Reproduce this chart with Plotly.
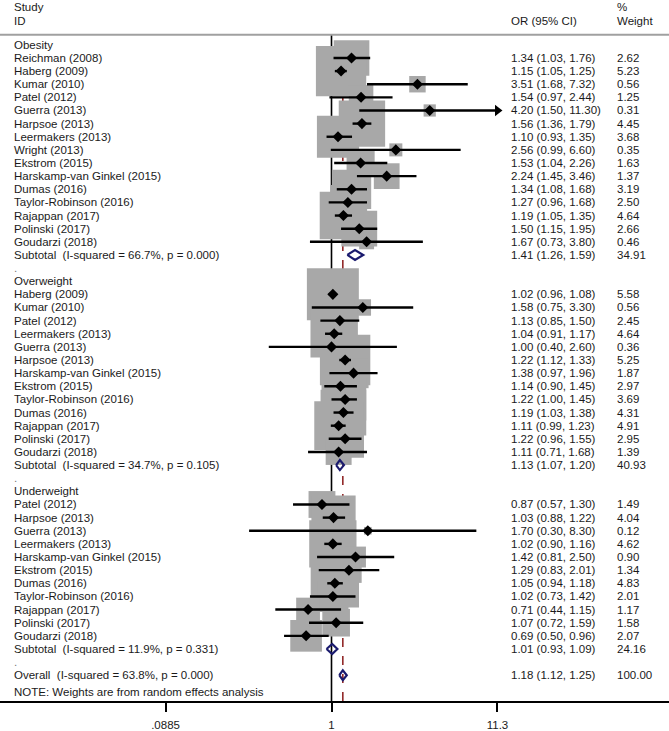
import math
import plotly.graph_objects as go

# ---------------- data ----------------
obesity_study = ["Reichman (2008)", "Haberg (2009)", "Kumar (2010)", "Patel (2012)", "Guerra (2013)",
                 "Harpsoe (2013)", "Leermakers (2013)", "Wright (2013)", "Ekstrom (2015)",
                 "Harskamp-van Ginkel (2015)", "Dumas (2016)", "Taylor-Robinson (2016)",
                 "Rajappan (2017)", "Polinski (2017)", "Goudarzi (2018)"]
obesity_or = [1.34, 1.15, 3.51, 1.54, 4.20, 1.56, 1.10, 2.56, 1.53, 2.24, 1.34, 1.27, 1.19, 1.50, 1.67]
obesity_lo = [1.03, 1.05, 1.68, 0.97, 1.50, 1.36, 0.93, 0.99, 1.04, 1.45, 1.08, 0.96, 1.05, 1.15, 0.73]
obesity_hi = [1.76, 1.25, 7.32, 2.44, 11.30, 1.79, 1.35, 6.60, 2.26, 3.46, 1.68, 1.68, 1.35, 1.95, 3.80]
obesity_w = [2.62, 5.23, 0.56, 1.25, 0.31, 4.45, 3.68, 0.35, 1.63, 1.37, 3.19, 2.50, 4.64, 2.66, 0.46]

overweight_study = ["Haberg (2009)", "Kumar (2010)", "Patel (2012)", "Leermakers (2013)", "Guerra (2013)",
                    "Harpsoe (2013)", "Harskamp-van Ginkel (2015)", "Ekstrom (2015)",
                    "Taylor-Robinson (2016)", "Dumas (2016)", "Rajappan (2017)", "Polinski (2017)",
                    "Goudarzi (2018)"]
overweight_or = [1.02, 1.58, 1.13, 1.04, 1.00, 1.22, 1.38, 1.14, 1.22, 1.19, 1.11, 1.22, 1.11]
overweight_lo = [0.96, 0.75, 0.85, 0.91, 0.40, 1.12, 0.97, 0.90, 1.00, 1.03, 0.99, 0.96, 0.71]
overweight_hi = [1.08, 3.30, 1.50, 1.17, 2.60, 1.33, 1.96, 1.45, 1.45, 1.38, 1.23, 1.55, 1.68]
overweight_w = [5.58, 0.56, 2.45, 4.64, 0.36, 5.25, 1.87, 2.97, 3.69, 4.31, 4.91, 2.95, 1.39]

underweight_study = ["Patel (2012)", "Harpsoe (2013)", "Guerra (2013)", "Leermakers (2013)",
                     "Harskamp-van Ginkel (2015)", "Ekstrom (2015)", "Dumas (2016)",
                     "Taylor-Robinson (2016)", "Rajappan (2017)", "Polinski (2017)", "Goudarzi (2018)"]
underweight_or = [0.87, 1.03, 1.70, 1.02, 1.42, 1.29, 1.05, 1.02, 0.71, 1.07, 0.69]
underweight_lo = [0.57, 0.88, 0.30, 0.90, 0.81, 0.83, 0.94, 0.73, 0.44, 0.72, 0.50]
underweight_hi = [1.30, 1.22, 8.30, 1.16, 2.50, 2.01, 1.18, 1.42, 1.15, 1.59, 0.96]
underweight_w = [1.49, 4.04, 0.12, 4.62, 0.90, 1.34, 4.83, 2.01, 1.17, 1.58, 2.07]

group_names = ["Obesity", "Overweight", "Underweight"]
subtotal_labels = ["Subtotal\u00a0 (I-squared = 66.7%, p = 0.000)",
                   "Subtotal\u00a0 (I-squared = 34.7%, p = 0.105)",
                   "Subtotal\u00a0 (I-squared = 11.9%, p = 0.331)"]
subtotal_or = [1.41, 1.13, 1.01]
subtotal_lo = [1.26, 1.07, 0.93]
subtotal_hi = [1.59, 1.20, 1.09]
subtotal_w = [34.91, 40.93, 24.16]

overall_label = "Overall\u00a0 (I-squared = 63.8%, p = 0.000)"
overall_or, overall_lo, overall_hi, overall_w = 1.18, 1.12, 1.25, 100.00

tick_vals = [0.0885, 1, 11.3]
tick_text = [".0885", "1", "11.3"]

# ---------------- layout geometry ----------------
W, H = 669, 731
S = 13.19          # px per row
ROW1_PX = 45       # pixel y of first row
PLOT_BOTTOM = 704
PLOT_H = PLOT_BOTTOM
ymax = ROW1_PX / S - 1
ymin = ymax - PLOT_H / S
PX_PER_DEC = 157.6
X_ONE_PX = 331.5
xr = [-X_ONE_PX / PX_PER_DEC, (W - X_ONE_PX) / PX_PER_DEC]


def py(px):
    return ymax - px / S


FONT = "Liberation Sans, Arial, sans-serif"
FS = 11.5
TXT = "#1a1a1a"
X_LABEL, X_OR, X_W = 12, 509, 615

groups = [
    (obesity_study, obesity_or, obesity_lo, obesity_hi, obesity_w),
    (overweight_study, overweight_or, overweight_lo, overweight_hi, overweight_w),
    (underweight_study, underweight_or, underweight_lo, underweight_hi, underweight_w),
]

rows = []  # (row_index, kind, label, est, lo, hi, w)
r = 1
for gi, (st, es, lo, hi, w) in enumerate(groups):
    rows.append((r, "head", group_names[gi], None, None, None, None)); r += 1
    for k in range(len(st)):
        rows.append((r, "study", st[k], es[k], lo[k], hi[k], w[k])); r += 1
    rows.append((r, "sub", subtotal_labels[gi], subtotal_or[gi], subtotal_lo[gi], subtotal_hi[gi], subtotal_w[gi])); r += 1
    rows.append((r, "dot", ".", None, None, None, None)); r += 1
rows.append((r, "sub", overall_label, overall_or, overall_lo, overall_hi, overall_w))

fig = go.Figure()

studies = [row for row in rows if row[1] == "study"]
# grey weight boxes
fig.add_trace(go.Scatter(
    x=[s[3] for s in studies], y=[-s[0] for s in studies], mode="markers",
    marker=dict(symbol="square", size=[22.0 * math.sqrt(s[6]) for s in studies],
                color="#a8a8a8", opacity=1, line=dict(width=0)),
    hoverinfo="skip", showlegend=False))

# CI lines
cx, cy = [], []
for s in studies:
    cx += [s[4], s[5], None]
    cy += [-s[0], -s[0], None]
fig.add_trace(go.Scatter(x=cx, y=cy, mode="lines", line=dict(color="black", width=2.4),
                         hoverinfo="skip", showlegend=False))

# point estimates
fig.add_trace(go.Scatter(
    x=[s[3] for s in studies], y=[-s[0] for s in studies], mode="markers",
    marker=dict(symbol="diamond", size=8.5, color="black", opacity=1),
    hoverinfo="skip", showlegend=False))

# arrowheads for truncated CIs
arr = [s for s in studies if s[5] >= tick_vals[-1]]
fig.add_trace(go.Scatter(
    x=[s[5] for s in arr], y=[-s[0] for s in arr], mode="markers",
    marker=dict(symbol="triangle-right", size=10, color="black", opacity=1),
    hoverinfo="skip", showlegend=False))

# pooled diamonds
h = 0.38
for s in rows:
    if s[1] == "sub":
        yy = -s[0]
        fig.add_trace(go.Scatter(
            x=[s[4], s[3], s[5], s[3], s[4]], y=[yy, yy + h, yy, yy - h, yy],
            mode="lines", line=dict(color="#1a1a6e", width=2.2),
            hoverinfo="skip", showlegend=False))

# reference lines
top_line = py(35)
shapes = [
    dict(type="line", xref="x", yref="y", x0=1, x1=1, y0=ymin, y1=top_line,
         line=dict(color="black", width=1.6), layer="below"),
    dict(type="line", xref="x", yref="y", x0=overall_or, x1=overall_or, y0=ymin, y1=top_line,
         line=dict(color="#8b1a1a", width=1.5, dash="dash"), layer="below"),
    dict(type="line", xref="paper", yref="y", x0=0, x1=1, y0=top_line, y1=top_line,
         line=dict(color="#a0a0a0", width=2)),
]

ann = []


def text(xpx, y, t, color=TXT):
    ann.append(dict(x=xpx / W, xref="paper", y=y, yref="y", text=t, showarrow=False,
                    xanchor="left", yanchor="middle", font=dict(family=FONT, size=FS, color=color)))


text(X_LABEL, py(7), "Study")
text(X_LABEL, py(21), "ID")
text(X_OR, py(21), "OR (95% CI)")
text(X_W, py(7), "%")
text(X_W, py(21), "Weight")

for s in rows:
    yy = -s[0]
    if s[1] == "dot":
        text(X_LABEL, yy, ".", color="#777777")
    else:
        text(X_LABEL, yy, s[2])
    if s[3] is not None:
        text(X_OR, yy, f"{s[3]:.2f} ({s[4]:.2f}, {s[5]:.2f})")
        text(X_W, yy, f"{s[6]:.2f}")

ann.append(dict(x=X_LABEL / W, xref="paper", y=0, yref="paper", yshift=1,
                text="NOTE: Weights are from random effects analysis", showarrow=False,
                xanchor="left", yanchor="bottom", font=dict(family=FONT, size=FS, color=TXT)))

fig.update_layout(
    width=W, height=H, margin=dict(l=0, r=0, t=0, b=H - PLOT_BOTTOM, pad=0),
    paper_bgcolor="white", plot_bgcolor="white",
    shapes=shapes, annotations=ann, showlegend=False,
    xaxis=dict(type="log", range=xr, tickvals=tick_vals, ticktext=tick_text,
               showgrid=False, zeroline=False, showline=True, linecolor="black", linewidth=2,
               ticks="outside", ticklen=9, tickwidth=1.5, tickcolor="black",
               tickfont=dict(family=FONT, size=FS, color=TXT), ticklabelstandoff=3,
               fixedrange=True),
    yaxis=dict(range=[ymin, ymax], visible=False, showgrid=False, zeroline=False, fixedrange=True),
)

fig.write_html("out.html", config={"displayModeBar": False},
               post_script="document.body.style.margin='0px';document.body.style.padding='0px';")
